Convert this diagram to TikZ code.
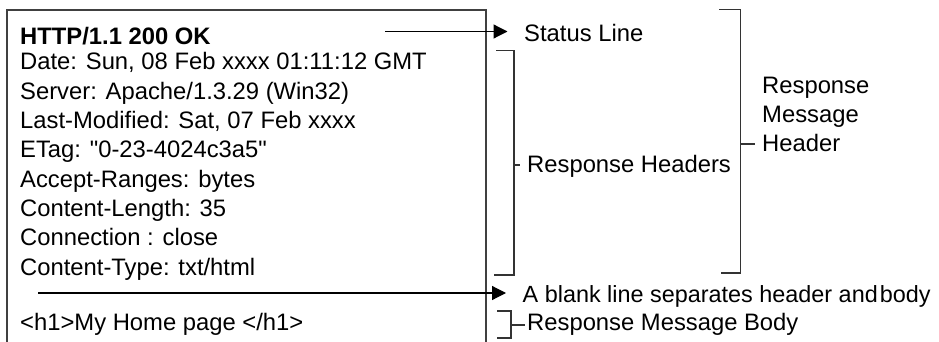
\documentclass[tikz,border=0pt]{standalone}
\usepackage{fontspec}
\setmainfont{Liberation Sans}
\usepackage{xcolor}
\colorlet{colBox}{black!75}
\colorlet{colBrk}{black!80}
\usepackage{tikz}
\usetikzlibrary{arrows.meta}

\begin{document}
\begin{tikzpicture}[x=1pt, y=-1pt,
		txt/.style={anchor=base west, inner sep=0pt,
			font=\fontsize{23.8}{29.3}\selectfont},
		lbl/.style={txt, align=left},
		brk/.style={draw=colBrk, line width=1.5pt},
		arr/.style={line width=1.2pt,
			-{Triangle[length=14pt, width=14pt]}, shorten >=16.5pt}
	]
	\useasboundingbox (0,0) rectangle (939,342);

	% ===== The response message, as sent =====
	\draw[colBox, line width=1.3pt] (7,342) |- (486,10) -- (486,342);
	\node[txt, font=\fontsize{23.8}{29.3}\selectfont\bfseries] (sl) at (20,44.3) {HTTP/1.1 200 OK};
	\node[txt] (h1) at (20,70)    {Date: Sun, 08 Feb xxxx 01:11:12 GMT};
	\node[txt] (h2) at (20,99.3)  {Server: Apache/1.3.29 (Win32)};
	\node[txt] (h3) at (20,128.6) {Last-Modified: Sat, 07 Feb xxxx};
	\node[txt] (h4) at (20,157.9) {ETag: \textquotedbl 0-23-4024c3a5\textquotedbl};
	\node[txt] (h5) at (20,187.2) {Accept-Ranges: bytes};
	\node[txt] (h6) at (20,216.5) {Content-Length: 35};
	\node[txt] (h7) at (20,245.8) {Connection : close};
	\node[txt] (h8) at (20,275.1) {Content-Type: txt/html};
	\node[txt] (bd) at (20,330.5) {<h1>My Home page </h1>};

	% ===== Labels on the right =====
	\node[txt] (status) at (524,41.5)  {Status Line};
	\node[txt] (hdrs)   at (527,172)   {Response Headers};
	% base of a multi-line node sits on its last line
	\node[lbl] (rmh)    at (762,151.7) {Response\\Message\\Header};
	\node[txt, font=\fontsize{23.4}{29.3}\selectfont] (blank) at (522.5,302)
		{A blank line separates header and\hspace{2pt}body};
	\node[txt] (body)   at (527,330.5) {Response Message Body};

	% ===== Pointers =====
	\coordinate (sA) at (385,31.5);
	\coordinate (bA) at (38,293);
	\draw[arr] (sA) -- (sA -| status.west);
	\draw[arr] (bA) -- (bA -| blank.west);

	% ===== Brackets, each with its tick =====
	\draw[brk] (496,50.5) -| (514,275) -- (494,275);
	\draw[brk] (514,165) -- (520,165);
	\draw[brk] (719,9.5) -| (740.5,273) -- (720.5,273);
	\draw[brk] (740.5,144) -- (755,144);
	\draw[brk] (497,311) -| (511,338) -- (497,338);
	\draw[brk] (511,325) -- (525,325);
\end{tikzpicture}
\end{document}
